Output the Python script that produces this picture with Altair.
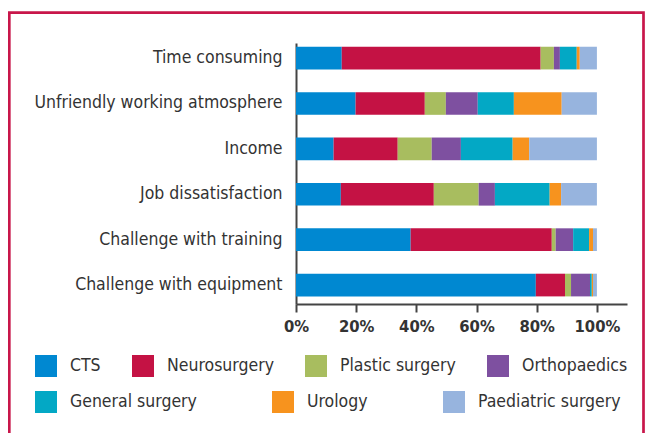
import altair as alt
import pandas as pd

reasons = [
    "Time consuming",
    "Unfriendly working atmosphere",
    "Income",
    "Job dissatisfaction",
    "Challenge with training",
    "Challenge with equipment",
]
specialties = [
    "CTS",
    "Neurosurgery",
    "Plastic surgery",
    "Orthopaedics",
    "General surgery",
    "Urology",
    "Paediatric surgery",
]
colors = ["#0088d1", "#c41244", "#a8bd5f", "#7e50a0", "#03a8c5", "#f7931e", "#97b4de"]

# percentages per reason, in the order of `reasons`
cts = [15.2, 19.8, 12.5, 14.9, 38.1, 79.7]
neurosurgery = [66.1, 23.0, 21.3, 30.9, 46.9, 9.7]
plastic = [4.4, 7.0, 11.3, 14.9, 1.3, 2.0]
orthopaedics = [2.0, 10.6, 9.7, 5.4, 5.8, 6.3]
general = [5.6, 12.0, 17.2, 18.2, 5.3, 0.6]
urology = [1.0, 15.9, 5.5, 3.8, 1.3, 0.4]
paediatric = [5.7, 11.7, 22.5, 11.9, 1.3, 1.3]

series = [cts, neurosurgery, plastic, orthopaedics, general, urology, paediatric]
x_ticks = [0, 20, 40, 60, 80, 100]

rows = []
for i, r in enumerate(reasons):
    for j, s in enumerate(specialties):
        rows.append({"reason": r, "specialty": s, "order": j, "value": series[j][i]})
df = pd.DataFrame(rows)

FONT = "DejaVu Sans Condensed, sans-serif"
TEXT = "#333333"
AXIS = "#444444"
FRAME = "#c8164a"

base = alt.Chart(df).transform_stack(
    stack="value", groupby=["reason"], as_=["x0", "x1"], sort=[alt.SortField("order")]
)

x_enc = alt.X(
    "x0:Q",
    scale=alt.Scale(domain=[0, 110], nice=False),
    axis=alt.Axis(
        values=x_ticks,
        labelExpr="datum.value + '%'",
        title=None,
        grid=False,
        domainColor=AXIS,
        domainWidth=2,
        tickColor=AXIS,
        tickWidth=2,
        tickSize=8,
        labelFlush=False,
        labelFont=FONT,
        labelFontSize=16.5,
        labelFontWeight="bold",
        labelColor=TEXT,
        labelPadding=6,
    ),
)
y_enc = alt.Y(
    "reason:N",
    sort=reasons,
    scale=alt.Scale(paddingInner=0.5, paddingOuter=0.125, align=0.33),
    axis=alt.Axis(
        title=None,
        ticks=False,
        domainColor=AXIS,
        domainWidth=2,
        labelFont=FONT,
        labelFontSize=17.5,
        labelColor=TEXT,
        labelPadding=14,
        labelLimit=400,
    ),
)

legend_common = dict(
    title=None,
    orient="none",
    direction="horizontal",
    gridAlign="none",
    symbolType="square",
    symbolSize=484,
    symbolStrokeWidth=0,
    labelOffset=13,
    labelFont=FONT,
    labelFontSize=17.5,
    labelColor=TEXT,
    labelLimit=300,
)

bars1 = base.transform_filter(
    alt.FieldOneOfPredicate(field="specialty", oneOf=specialties[:4])
).mark_bar().encode(
    x=x_enc,
    x2="x1:Q",
    y=y_enc,
    color=alt.Color(
        "specialty:N",
        scale=alt.Scale(domain=specialties[:4], range=colors[:4]),
        legend=alt.Legend(legendX=-261, legendY=312, columns=4, columnPadding=31, **legend_common),
    ),
)

bars2 = base.transform_filter(
    alt.FieldOneOfPredicate(field="specialty", oneOf=specialties[4:])
).mark_bar().encode(
    x=alt.X("x0:Q"),
    x2="x1:Q",
    y=alt.Y("reason:N", sort=reasons),
    color=alt.Color(
        "specialty:N",
        scale=alt.Scale(domain=specialties[4:], range=colors[4:]),
        legend=alt.Legend(legendX=-261, legendY=348, columns=3, columnPadding=75, **legend_common),
    ),
)

frame = alt.Chart(alt.Data(values=[{"f": 1}])).mark_rect(
    fill=None, filled=False, stroke=FRAME, strokeWidth=2.7
).encode(
    x=alt.value(-286.7),
    x2=alt.value(347.5),
    y=alt.value(-30.3),
    y2=alt.value(440),
)

chart = alt.layer(frame, bars1, bars2).resolve_scale(color="independent").properties(
    width=331,
    height=261,
    autosize=alt.AutoSizeParams(type="none"),
    padding={"left": 288, "top": 35, "right": 18, "bottom": 129},
    background="white",
).configure_view(stroke=None)

chart.save("out.html", embed_options={"renderer": "svg", "actions": False})
